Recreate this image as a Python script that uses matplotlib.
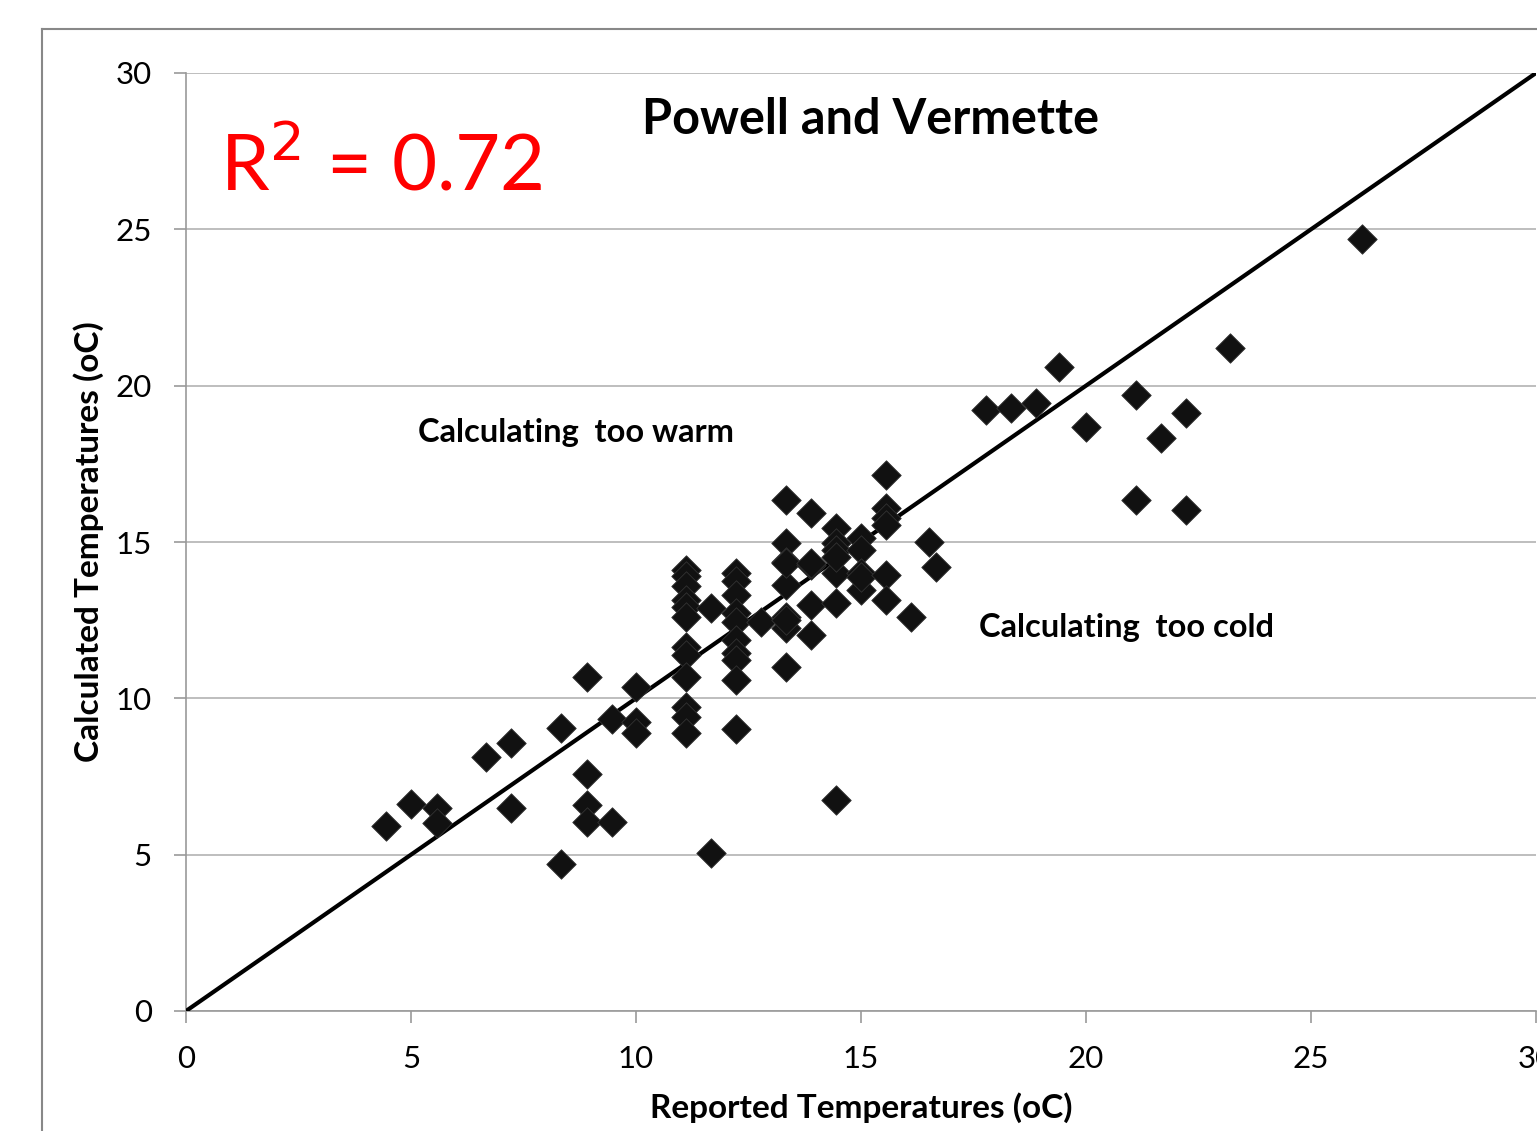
import matplotlib.pyplot as plt
from matplotlib.lines import Line2D

# Reported vs calculated temperatures (oC)
reported = [4.44, 5.0, 5.57, 5.57, 6.67, 7.22, 7.22, 8.33, 8.33, 8.9, 8.9, 8.9, 8.9,
            9.46, 9.46, 10.0, 10.0, 10.0,
            11.11, 11.11, 11.11, 11.11, 11.11, 11.11, 11.11, 11.11, 11.11, 11.11, 11.11, 11.11,
            11.67, 11.67,
            12.22, 12.22, 12.22, 12.22, 12.22, 12.22, 12.22, 12.22, 12.22, 12.22,
            12.78,
            13.33, 13.33, 13.33, 13.33, 13.33, 13.33, 13.33, 13.33, 13.33,
            13.89, 13.89, 13.89, 13.89, 13.89,
            14.44, 14.44, 14.44, 14.44, 14.44, 14.44, 14.44,
            15.0, 15.0, 15.0, 15.0, 15.0,
            15.56, 15.56, 15.56, 15.56, 15.56, 15.56,
            16.11, 16.5, 16.67,
            17.78, 18.33, 18.89, 19.39, 20.0, 21.11, 21.11, 21.67, 22.22, 22.22, 23.2, 26.13]
calculated = [5.93, 6.61, 6.48, 6.0, 8.13, 8.56, 6.5, 9.06, 4.69, 10.69, 7.57, 6.59, 6.05,
              9.33, 6.05, 10.37, 9.25, 8.88,
              14.1, 13.9, 13.6, 13.14, 12.93, 12.61, 11.65, 11.38, 10.69, 9.73, 9.41, 8.88,
              12.88, 5.05,
              14.0, 13.75, 13.3, 12.72, 12.45, 11.86, 11.44, 11.22, 10.58, 9.02,
              12.45,
              16.34, 14.96, 14.37, 13.62, 12.61, 12.24, 11.01, 14.32, 12.5,
              15.92, 14.26, 12.98, 12.02, 14.32,
              15.44, 14.96, 14.74, 14.0, 13.04, 14.53, 6.75,
              15.12, 14.74, 14.0, 13.46, 13.89,
              17.14, 16.08, 15.76, 15.54, 13.94, 13.14,
              12.61, 15.0, 14.21,
              19.22, 19.27, 19.43, 20.6, 18.69, 19.7, 16.34, 18.33, 19.11, 16.02, 21.19, 24.69]

ticks = [0, 5, 10, 15, 20, 25, 30]
font = ['Lato', 'DejaVu Sans']

fig = plt.figure(figsize=(15.37, 11.31), dpi=100)
ax = fig.add_axes([186 / 1537, 1 - 1011 / 1131, 1350 / 1537, (1011 - 73) / 1131])

# outer chart-area border (runs off the right and bottom edges)
fig.add_artist(Line2D([42 / 1537, 1.0], [1 - 29 / 1131] * 2, color='#888888', lw=1.5,
                      transform=fig.transFigure))
fig.add_artist(Line2D([42 / 1537] * 2, [0.0, 1 - 29 / 1131], color='#888888', lw=1.5,
                      transform=fig.transFigure))

ax.plot([0, 30], [0, 30], color='black', lw=3, zorder=3)
ax.scatter(reported, calculated, marker='D', s=225, color='#111111',
           edgecolors='#333333', linewidths=0.6, zorder=4)

ax.set_xlim(0, 30)
ax.set_ylim(0, 30)
ax.set_xticks(ticks)
ax.set_yticks(ticks)
ax.grid(axis='y', color='#b3b3b3', lw=1.2)
ax.set_axisbelow(True)
for side in ['top', 'right']:
    ax.spines[side].set_visible(False)
for side in ['left', 'bottom']:
    ax.spines[side].set_color('#999999')
    ax.spines[side].set_linewidth(1.2)
ax.tick_params(direction='out', length=8.5, width=1.2, color='#999999', labelsize=22.5)
for lbl in ax.get_xticklabels() + ax.get_yticklabels():
    lbl.set_family(font)
ax.tick_params(axis='x', pad=16)
ax.tick_params(axis='y', pad=16)

ax.set_xlabel('Reported Temperatures (oC)', family=font, fontsize=24, fontweight='bold',
              labelpad=14)
ax.set_ylabel('Calculated Temperatures (oC)', family=font, fontsize=24, fontweight='bold',
              labelpad=8)

ax.text(15.2, 28.5, 'Powell and Vermette', family=font, fontsize=35, fontweight='bold',
        ha='center', va='center')
ax.text(0.75, 27.0, r'R$^2$ = 0.72', family=font, fontsize=56, color='red',
        ha='left', va='center')
ax.text(8.67, 18.5, 'Calculating  too warm', family=font, fontsize=23.5, fontweight='bold',
        ha='center', va='center')
ax.text(20.9, 12.25, 'Calculating  too cold', family=font, fontsize=23.5, fontweight='bold',
        ha='center', va='center')

fig.savefig('out.png', dpi=100)
